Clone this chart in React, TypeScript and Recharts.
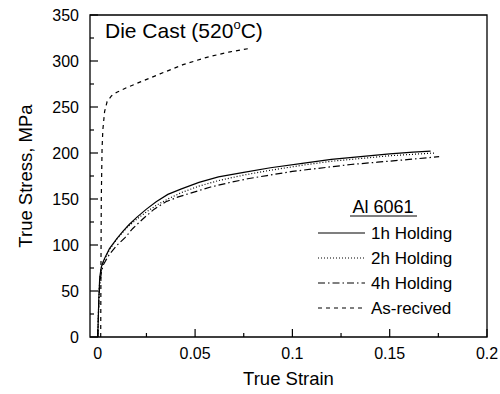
import React from 'react';
import { LineChart, Line, XAxis, YAxis, ReferenceArea, Label } from 'recharts';

// ---- data ----
const hold1hStrain = [0, 0.0005, 0.001, 0.0018, 0.0026, 0.0036, 0.006, 0.0098, 0.013, 0.016, 0.02, 0.025, 0.03, 0.036, 0.043, 0.052, 0.062, 0.075, 0.0887, 0.106, 0.12, 0.135, 0.15, 0.162, 0.171];
const hold1hStress = [0, 40, 65, 76, 81, 86, 96, 107, 115, 122, 130, 139, 147, 155, 161, 168, 174, 179, 184, 189, 193, 196, 199, 201, 202];

const hold2hStrain = [0, 0.0005, 0.001, 0.002, 0.003, 0.006, 0.01, 0.015, 0.02, 0.025, 0.03, 0.036, 0.043, 0.052, 0.062, 0.075, 0.088, 0.106, 0.12, 0.135, 0.15, 0.165, 0.173];
const hold2hStress = [0, 38, 63, 76, 82, 95, 107, 119, 128, 136, 143, 150, 157, 164, 170, 176, 181, 187, 191, 194, 197, 199, 200];

const hold4hStrain = [0, 0.0005, 0.001, 0.002, 0.003, 0.006, 0.01, 0.014, 0.018, 0.023, 0.029, 0.035, 0.041, 0.047, 0.058, 0.068, 0.077, 0.087, 0.1, 0.118, 0.13, 0.1437, 0.16, 0.1754];
const hold4hStress = [0, 35, 58, 72, 79, 90, 100, 108, 118, 128, 139, 147, 152, 156, 163, 168, 172, 175.5, 180, 184.5, 187.5, 190, 193, 196];

const asRecStrain = [0.0015, 0.0016, 0.0018, 0.0022, 0.0026, 0.0035, 0.0048, 0.007, 0.0098, 0.0148, 0.0216, 0.032, 0.0438, 0.056, 0.068, 0.079];
const asRecStress = [0, 60, 150, 205, 225, 245, 256, 262, 266, 271, 277, 286, 296, 304, 310, 314];

const xTicks = [0, 0.025, 0.05, 0.075, 0.1, 0.125, 0.15, 0.175, 0.2];
const yTicks = [0, 25, 50, 75, 100, 125, 150, 175, 200, 225, 250, 275, 300, 325, 350];

const seriesNames = ['1h Holding', '2h Holding', '4h Holding', 'As-recived'];

const toPoints = (xs: number[], ys: number[]) => xs.map((x, i) => ({ x, y: ys[i] }));
const series = [
  { name: seriesNames[0], data: toPoints(hold1hStrain, hold1hStress), dash: undefined as string | undefined },
  { name: seriesNames[1], data: toPoints(hold2hStrain, hold2hStress), dash: '1 2' },
  { name: seriesNames[2], data: toPoints(hold4hStrain, hold4hStress), dash: '7 3 1.5 3' },
  { name: seriesNames[3], data: toPoints(asRecStrain, asRecStress), dash: '4 4' },
];

const FONT = '"Liberation Sans", Arial, Helvetica, sans-serif';
const TICK_MARGIN = 11;

const YTick = (props: any) => {
  const { x, y, payload } = props;
  const axisX = x + TICK_MARGIN;
  const major = Math.round(payload.value) % 50 === 0;
  return (
    <g>
      <line x1={axisX} x2={axisX + (major ? 8 : 4)} y1={y} y2={y} stroke="#000" strokeWidth={1.2} />
      {major && (
        <text x={x} y={y} dy={6} textAnchor="end" fontSize={16} fontFamily={FONT} fill="#000">
          {payload.value}
        </text>
      )}
    </g>
  );
};

const XTick = (props: any) => {
  const { x, y, payload } = props;
  const axisY = y - TICK_MARGIN;
  const major = Math.round(payload.value * 1000) % 50 === 0;
  return (
    <g>
      <line x1={x} x2={x} y1={axisY} y2={axisY - (major ? 8 : 4)} stroke="#000" strokeWidth={1.2} />
      {major && (
        <text x={x} y={axisY} dy={22} textAnchor="middle" fontSize={16} fontFamily={FONT} fill="#000">
          {String(payload.value)}
        </text>
      )}
    </g>
  );
};

const YLabel = (props: any) => {
  const vb = props.viewBox || {};
  const cx = (vb.x || 0) + 25;
  const cy = (vb.y || 0) + (vb.height || 0) / 2;
  return (
    <text x={cx} y={cy} transform={`rotate(-90 ${cx} ${cy})`} textAnchor="middle" dominantBaseline="central" fontSize={18.5} fontFamily={FONT} fill="#000">
      True Stress, MPa
    </text>
  );
};

const XLabel = (props: any) => {
  const vb = props.viewBox || {};
  const cx = (vb.x || 0) + (vb.width || 0) / 2;
  const cy = (vb.y || 0) + 48;
  return (
    <text x={cx} y={cy} textAnchor="middle" fontSize={18.5} fontFamily={FONT} fill="#000">
      True Strain
    </text>
  );
};

export default function App() {
  return (
    <div style={{ position: 'absolute', left: 0, top: 0, width: 500, height: 394, background: '#fff' }}>
      <LineChart width={500} height={394} margin={{ top: 15, right: 13, bottom: 0, left: 0 }}>
        <XAxis
          type="number"
          dataKey="x"
          domain={[-0.004, 0.2]}
          ticks={xTicks}
          interval={0}
          allowDataOverflow
          axisLine={false}
          tickLine={false}
          tickSize={0}
          tickMargin={TICK_MARGIN}
          tick={<XTick />}
          height={57}
        >
          <Label content={<XLabel />} />
        </XAxis>
        <YAxis
          type="number"
          domain={[0, 350]}
          ticks={yTicks}
          interval={0}
          allowDataOverflow
          axisLine={false}
          tickLine={false}
          tickSize={0}
          tickMargin={TICK_MARGIN}
          tick={<YTick />}
          width={90}
        >
          <Label content={<YLabel />} />
        </YAxis>
        <ReferenceArea x1={-0.004} x2={0.2} y1={0} y2={350} fill="none" stroke="#000" strokeWidth={1.3} fillOpacity={0} />
        {series.map((s) => (
          <Line
            key={s.name}
            name={s.name}
            data={s.data}
            dataKey="y"
            type="linear"
            stroke="#000"
            strokeWidth={1.2}
            strokeDasharray={s.dash}
            dot={false}
            activeDot={false}
            isAnimationActive={false}
          />
        ))}
      </LineChart>
      <svg width={500} height={394} style={{ position: 'absolute', left: 0, top: 0, pointerEvents: 'none' }}>
        <text x={105} y={38} fontSize={21} fontFamily={FONT} fill="#000">
          Die Cast (520<tspan fontSize={13} dy={-9}>o</tspan><tspan dy={9}>C)</tspan>
        </text>
        <text x={383} y={213} textAnchor="middle" fontSize={18} fontFamily={FONT} fill="#000">Al 6061</text>
        <line x1={350} x2={417} y1={216} y2={216} stroke="#000" strokeWidth={1.2} />
        {series.map((s, i) => {
          const cy = 233 + i * 25;
          return (
            <g key={s.name}>
              <line x1={318} x2={365} y1={cy} y2={cy} stroke="#000" strokeWidth={1.2} strokeDasharray={s.dash} />
              <text x={371} y={cy} dy={6} fontSize={17} fontFamily={FONT} fill="#000">{s.name}</text>
            </g>
          );
        })}
      </svg>
    </div>
  );
}
